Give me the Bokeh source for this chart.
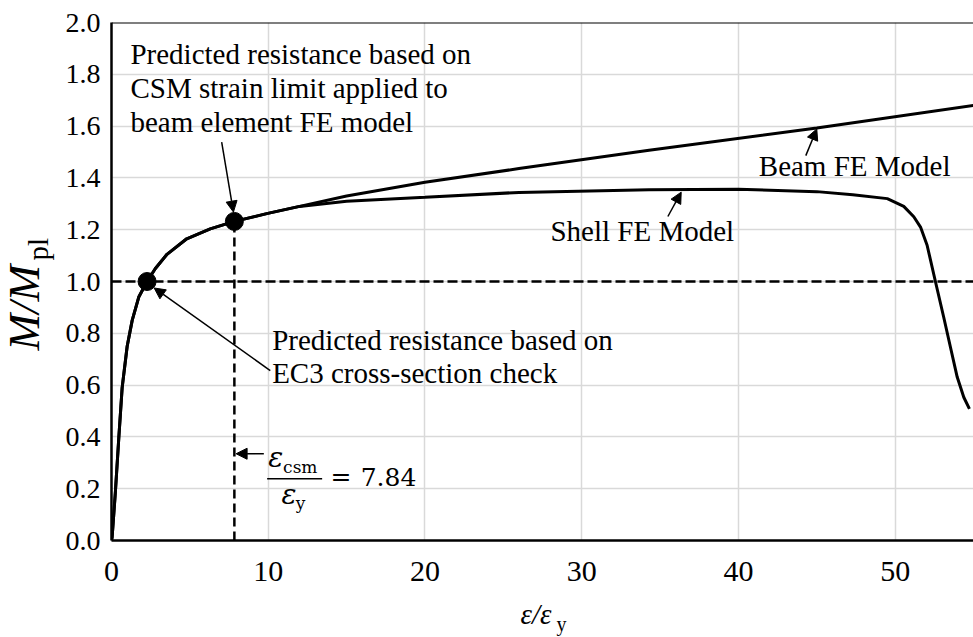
import math
from bokeh.plotting import figure
from bokeh.layouts import row, column
from bokeh.models import (Range1d, FixedTicker, PrintfTickFormatter, Label,
                          Arrow, NormalHead, Span)
from bokeh.embed import file_html
from bokeh.resources import INLINE

# ---------------- data ----------------
rise_x = [0, 0.04, 0.25, 0.47, 0.68, 1.0, 1.32, 1.74, 2.27, 2.8, 3.54, 4.8, 6.3, 7.84, 9.9, 12.0]
rise_y = [0, 0.013, 0.19, 0.40, 0.59, 0.75, 0.85, 0.94, 1.0, 1.05, 1.105, 1.165, 1.203, 1.232, 1.262, 1.290]

beam_tail_x = [15.0, 20.0, 26.0, 34.3, 45.0, 55.0]
beam_tail_y = [1.330, 1.383, 1.436, 1.507, 1.593, 1.680]

shell_tail_x = [15.0, 20.0, 26.0, 34.3, 40.0, 45.0, 47.3, 49.5, 50.55, 51.19, 51.62, 52.04,
                52.57, 53.1, 53.53, 53.96, 54.38, 54.74]
shell_tail_y = [1.310, 1.325, 1.344, 1.354, 1.356, 1.347, 1.335, 1.320, 1.290, 1.250, 1.210, 1.140,
                1.0, 0.862, 0.746, 0.631, 0.553, 0.508]

beam_x = rise_x + beam_tail_x
beam_y = rise_y + beam_tail_y
shell_x = rise_x + shell_tail_x
shell_y = rise_y + shell_tail_y

dot_x = [2.27, 7.84]
dot_y = [1.0, 1.232]

eps_csm = 7.84
x_ticks = [0, 10, 20, 30, 40, 50]
y_ticks = [0.0, 0.2, 0.4, 0.6, 0.8, 1.0, 1.2, 1.4, 1.6, 1.8, 2.0]

SERIF = "Liberation Serif"
MATH = "DejaVu Serif"
H = 637
LEFT_W = 58          # strip holding the y-axis title
MAIN_W = 973 - LEFT_W
MAIN_H = 597         # main chart (frame 22..540)
BOT_H = H - MAIN_H   # strip holding the x-axis title
PX_PER_Y = 259.0     # pixels per y unit in the main frame
PX_PER_X = 862.0 / 55.0

x_range = Range1d(0, 55)


def label(fig, x, y, s, size=29, font=SERIF, style="normal", angle=0.0, scale=1.0):
    """x, y give the start of the text baseline; the label is placed by its middle."""
    shift = 0.34 * size / scale
    if angle:
        x = x - shift
    else:
        y = y + shift
    fig.add_layout(Label(x=x, y=y, text=s, text_font=font, text_font_size=f"{size}px",
                         text_font_style=style, text_align="left",
                         text_baseline="middle", text_color="black", angle=angle))


def strip(w, h, xr, border_left=0):
    f = figure(width=w, height=h, output_backend="svg", toolbar_location=None, title=None,
               x_range=xr, y_range=Range1d(0, h),
               x_axis_type=None, y_axis_type=None, min_border=0,
               min_border_left=border_left, min_border_right=0, min_border_top=0,
               min_border_bottom=0)
    f.outline_line_color = None
    f.background_fill_color = "white"
    f.border_fill_color = "white"
    return f


# ---------------- main figure ----------------
p = figure(width=MAIN_W, height=MAIN_H, output_backend="svg", toolbar_location=None,
           x_range=x_range, y_range=Range1d(0, 2.0),
           min_border_left=111 - LEFT_W, min_border_right=0, min_border_top=22,
           min_border_bottom=MAIN_H - 540)
p.outline_line_color = None
p.background_fill_color = "white"
p.border_fill_color = "white"

p.xaxis.ticker = FixedTicker(ticks=x_ticks)
p.yaxis.ticker = FixedTicker(ticks=y_ticks)
p.yaxis.formatter = PrintfTickFormatter(format="%.1f")
for ax in (p.xaxis[0], p.yaxis[0]):
    ax.axis_line_color = "black"
    ax.axis_line_width = 2.5
    ax.major_tick_line_color = None
    ax.minor_tick_line_color = None
    ax.major_tick_out = 0
    ax.major_tick_in = 0
    ax.major_label_text_font = SERIF
    ax.major_label_text_color = "black"
p.xaxis.major_label_text_font_size = "30px"
p.yaxis.major_label_text_font_size = "28px"
p.xaxis.major_label_standoff = 21
p.yaxis.major_label_standoff = 11

p.xgrid.ticker = FixedTicker(ticks=x_ticks)
p.ygrid.ticker = FixedTicker(ticks=y_ticks)
p.grid.grid_line_color = "#d9d9d9"
p.grid.grid_line_width = 1.5

# top border
p.add_layout(Span(location=2.0, dimension="width", line_color="black", line_width=2))

# reference lines
p.add_layout(Span(location=1.0, dimension="width", line_color="black", line_width=2.5,
                  line_dash="10 4"))
p.line([eps_csm, eps_csm], [0, dot_y[1]], line_color="black", line_width=2.5, line_dash="9 5")

# curves
p.line(shell_x, shell_y, line_color="black", line_width=3)
p.line(beam_x, beam_y, line_color="black", line_width=3)
p.scatter(dot_x, dot_y, size=18, fill_color="black", line_color="black")


def arrow(x0, y0, x1, y1):
    p.add_layout(Arrow(x_start=x0, y_start=y0, x_end=x1, y_end=y1,
                       line_color="black", line_width=1.5,
                       end=NormalHead(size=11, fill_color="black", line_color="black")))


def mlabel(x, y, s, **kw):
    label(p, x, y, s, scale=PX_PER_Y, **kw)


# annotation 1 (CSM)
mlabel(1.21, 1.842, "Predicted resistance based on")
mlabel(1.21, 1.710, "CSM strain limit applied to")
mlabel(1.21, 1.579, "beam element FE model")
arrow(7.03, 1.538, 7.78, 1.268)

# annotation 2 (EC3)
mlabel(10.25, 0.736, "Predicted resistance based on")
mlabel(10.25, 0.609, "EC3 cross-section check")
arrow(10.13, 0.656, 2.72, 0.975)

# curve labels
mlabel(41.30, 1.409, "Beam FE Model")
arrow(44.3, 1.486, 45.0, 1.589)
mlabel(28.01, 1.158, "Shell FE Model")
arrow(35.5, 1.251, 36.35, 1.345)

# epsilon_csm / epsilon_y = 7.84
arrow(9.72, 0.335, 7.95, 0.335)
mlabel(10.0, 0.283, "ε", size=28, font=MATH, style="italic")
mlabel(10.95, 0.262, "csm", size=17, font=MATH)
p.line([9.93, 13.44], [0.238, 0.238], line_color="black", line_width=1.5)
mlabel(10.85, 0.142, "ε", size=28, font=MATH, style="italic")
mlabel(11.75, 0.122, "y", size=17, font=MATH)
mlabel(13.97, 0.214, "=", size=25, font=MATH)
mlabel(15.9, 0.212, "7.84", size=25, font=MATH)

# ---------------- axis-title strips ----------------
left = strip(LEFT_W, H, Range1d(0, LEFT_W))
label(left, 39, H - 350, "M/M", size=44, style="italic", angle=math.pi / 2)
label(left, 47, H - 260, "pl", size=29, angle=math.pi / 2)

# bottom strip shares the main x range and frame offset
bottom = strip(MAIN_W, BOT_H, x_range, border_left=111 - LEFT_W)
label(bottom, (520 - 111) / PX_PER_X, H - 623, "ε/ε", size=29, style="italic")
label(bottom, (556 - 111) / PX_PER_X, H - 630, "y", size=20)

layout = row(left, column(p, bottom, spacing=0), spacing=0)

open("out.html", "w").write(file_html(layout, INLINE))
